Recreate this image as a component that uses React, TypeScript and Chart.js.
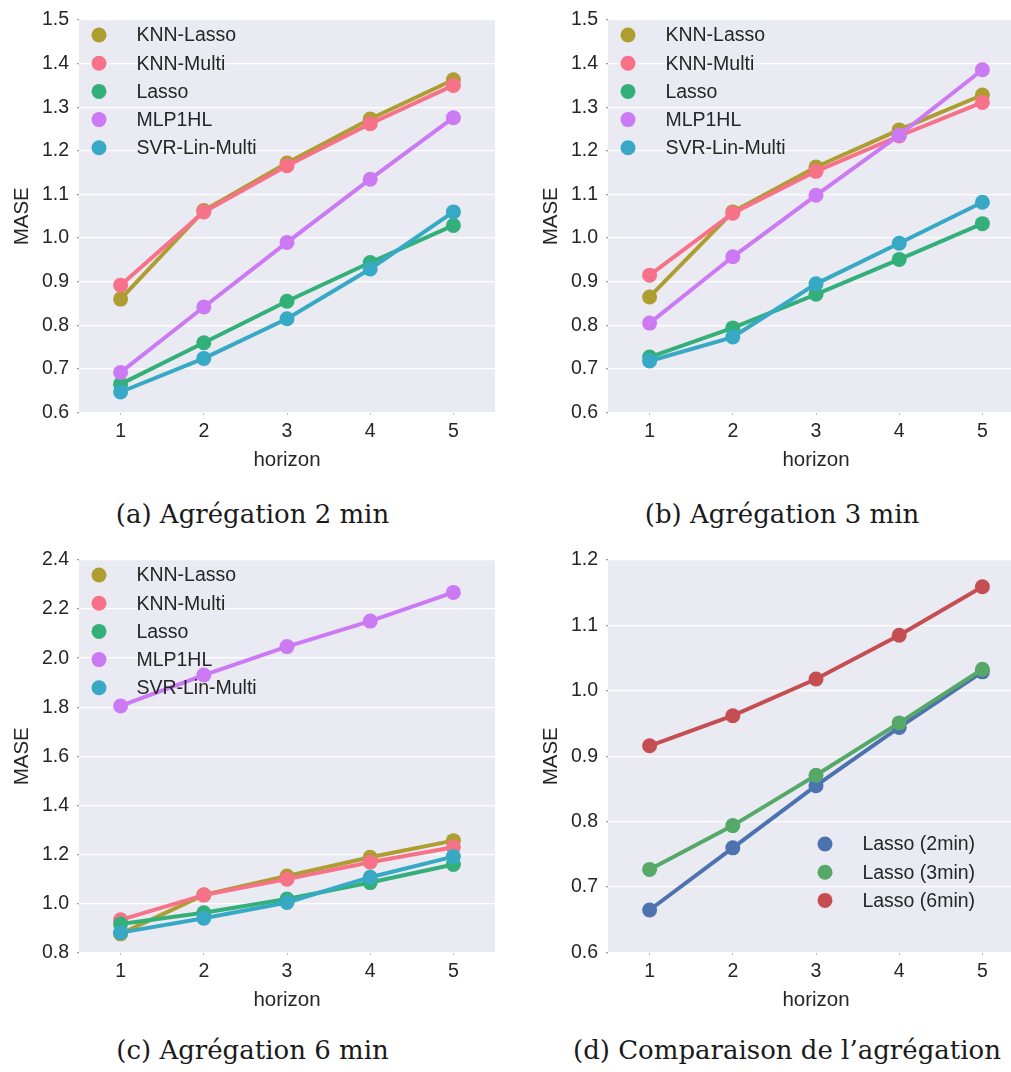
import React, { useEffect, useRef } from "react";
import { Chart, registerables } from "chart.js";

Chart.register(...registerables);

// ---------- data ----------
const horizons = ["1", "2", "3", "4", "5"];
const methodNames = ["KNN-Lasso", "KNN-Multi", "Lasso", "MLP1HL", "SVR-Lin-Multi"];

// (a) 2 min aggregation
const knnLasso2 = [0.86, 1.063, 1.172, 1.273, 1.363];
const knnMulti2 = [0.892, 1.06, 1.166, 1.262, 1.35];
const lasso2 = [0.665, 0.76, 0.855, 0.944, 1.029];
const mlp2 = [0.692, 0.842, 0.99, 1.135, 1.276];
const svr2 = [0.647, 0.724, 0.815, 0.929, 1.06];

// (b) 3 min aggregation
const knnLasso3 = [0.865, 1.06, 1.163, 1.248, 1.328];
const knnMulti3 = [0.915, 1.057, 1.153, 1.234, 1.311];
const lasso3 = [0.727, 0.794, 0.871, 0.951, 1.033];
const mlp3 = [0.805, 0.957, 1.098, 1.236, 1.386];
const svr3 = [0.718, 0.773, 0.895, 0.988, 1.082];

// (c) 6 min aggregation
const knnLasso6 = [0.876, 1.035, 1.112, 1.188, 1.256];
const knnMulti6 = [0.933, 1.034, 1.099, 1.168, 1.229];
const lasso6 = [0.916, 0.962, 1.018, 1.085, 1.159];
const mlp6 = [1.805, 1.931, 2.047, 2.151, 2.268];
const svr6 = [0.881, 0.94, 1.004, 1.107, 1.191];

// (d) comparison
const comparisonNames = ["Lasso (2min)", "Lasso (3min)", "Lasso (6min)"];

const methodColors = ["#ae9d31", "#f77189", "#33b07a", "#cc7af4", "#38a9c5"];
const comparisonColors = ["#4c72b0", "#55a868", "#c44e52"];

const captions = [
  "(a) Agrégation 2 min",
  "(b) Agrégation 3 min",
  "(c) Agrégation 6 min",
  "(d) Comparaison de l\u2019agrégation",
];

// ---------- styling ----------
const SANS = "'Liberation Sans', Arial, sans-serif";
const TEXT = "#262626";
const PANEL_W = 505;
const PANEL_H = 480;

const bgPlugin = {
  id: "plotBg",
  beforeDraw(chart: any) {
    const { ctx, chartArea } = chart;
    ctx.save();
    ctx.fillStyle = "#eaeaf2";
    ctx.fillRect(chartArea.left, chartArea.top, chartArea.right - chartArea.left, chartArea.bottom - chartArea.top);
    ctx.restore();
  },
};

const insideLegend = {
  id: "insideLegend",
  afterDraw(chart: any, _args: any, opts: any) {
    const { ctx, chartArea } = chart;
    const ds = chart.data.datasets;
    ctx.save();
    ctx.font = `${opts.fontSize}px ${SANS}`;
    ctx.textBaseline = "middle";
    ctx.textAlign = "left";
    ds.forEach((d: any, i: number) => {
      const cx = chartArea.left + opts.x;
      const cy = chartArea.top + opts.y + i * opts.spacing;
      ctx.beginPath();
      ctx.fillStyle = d.backgroundColor;
      ctx.arc(cx, cy, opts.radius, 0, Math.PI * 2);
      ctx.fill();
      ctx.fillStyle = TEXT;
      ctx.fillText(d.label, cx + opts.textOffset, cy + 1);
    });
    ctx.restore();
  },
};

function makeDatasets(names: string[], series: number[][], colors: string[]) {
  return series.map((data, i) => ({
    label: names[i],
    data,
    borderColor: colors[i],
    backgroundColor: colors[i],
    pointBackgroundColor: colors[i],
    pointBorderColor: colors[i],
    pointBorderWidth: 0,
    pointRadius: 7.5,
    borderWidth: 4,
    tension: 0,
    order: series.length - i,
  }));
}

type PanelProps = {
  left: number;
  top: number;
  names: string[];
  series: number[][];
  colors: string[];
  yMin: number;
  yMax: number;
  yStep: number;
  legendX: number;
  legendY: number;
};

function Panel(p: PanelProps) {
  const ref = useRef<HTMLCanvasElement | null>(null);
  useEffect(() => {
    if (!ref.current) return;
    const chart = new Chart(ref.current, {
      type: "line",
      data: { labels: horizons, datasets: makeDatasets(p.names, p.series, p.colors) as any },
      plugins: [bgPlugin, insideLegend],
      options: {
        responsive: false,
        animation: false,
        devicePixelRatio: 1,
        layout: { padding: { top: 20, right: 10, left: 0, bottom: 0 } },
        plugins: {
          legend: { display: false },
          tooltip: { enabled: false },
          insideLegend: {
            x: p.legendX,
            y: p.legendY,
            spacing: 28.2,
            radius: 7.5,
            textOffset: 37.4,
            fontSize: 19.5,
          },
        } as any,
        scales: {
          x: {
            type: "category",
            offset: true,
            afterFit: (s: any) => {
              s.height = 67.5;
            },
            grid: {
              display: true,
              drawOnChartArea: false,
              drawTicks: true,
              tickLength: 2,
              tickColor: "#999999",
              offset: false,
            },
            border: { display: false },
            ticks: {
              color: TEXT,
              font: { size: 19.5, family: SANS },
              padding: 5,
              maxRotation: 0,
            },
            title: {
              display: true,
              text: "horizon",
              color: TEXT,
              font: { size: 20.5, family: SANS },
              padding: { top: 0, bottom: 7 },
            },
          },
          y: {
            type: "linear",
            min: p.yMin,
            max: p.yMax,
            afterFit: (s: any) => {
              s.width = 79;
            },
            grid: {
              color: "#ffffff",
              lineWidth: 1.3,
              drawTicks: true,
              tickLength: 2,
              tickColor: "#999999",
            },
            border: { display: false },
            ticks: {
              stepSize: p.yStep,
              color: TEXT,
              font: { size: 19.5, family: SANS },
              padding: 8,
              callback: (v: any) => Number(v).toFixed(1),
            },
            title: {
              display: true,
              text: "MASE",
              color: TEXT,
              font: { size: 20.5, family: SANS },
              padding: { top: 10, bottom: 0 },
            },
          },
        },
      },
    });
    return () => chart.destroy();
  }, []);
  return (
    <div style={{ position: "absolute", left: p.left, top: p.top, width: PANEL_W, height: PANEL_H }}>
      <canvas ref={ref} width={PANEL_W} height={PANEL_H} style={{ display: "block" }} />
    </div>
  );
}

function Caption({ text, cx, cy }: { text: string; cx: number; cy: number }) {
  return (
    <div
      style={{
        position: "absolute",
        left: cx - 300,
        top: cy - 20,
        width: 600,
        height: 40,
        lineHeight: "40px",
        textAlign: "center",
        fontFamily: "'DejaVu Serif', serif",
        fontSize: 26,
        color: "#1a1a1a",
        whiteSpace: "nowrap",
      }}
    >
      {text}
    </div>
  );
}

export default function App() {
  return (
    <div
      style={{
        position: "absolute",
        left: 0,
        top: 0,
        width: 1011,
        height: 1072,
        overflow: "hidden",
        background: "#ffffff",
      }}
    >
      <Panel
        left={0}
        top={0}
        names={methodNames}
        series={[knnLasso2, knnMulti2, lasso2, mlp2, svr2]}
        colors={methodColors}
        yMin={0.6}
        yMax={1.5}
        yStep={0.1}
        legendX={20}
        legendY={15}
      />
      <Panel
        left={529}
        top={0}
        names={methodNames}
        series={[knnLasso3, knnMulti3, lasso3, mlp3, svr3]}
        colors={methodColors}
        yMin={0.6}
        yMax={1.5}
        yStep={0.1}
        legendX={20}
        legendY={15}
      />
      <Panel
        left={0}
        top={540}
        names={methodNames}
        series={[knnLasso6, knnMulti6, lasso6, mlp6, svr6]}
        colors={methodColors}
        yMin={0.8}
        yMax={2.4}
        yStep={0.2}
        legendX={20}
        legendY={15}
      />
      <Panel
        left={529}
        top={540}
        names={comparisonNames}
        series={[lasso2, lasso3, lasso6]}
        colors={comparisonColors}
        yMin={0.6}
        yMax={1.2}
        yStep={0.1}
        legendX={217}
        legendY={284}
      />
      <Caption text={captions[0]} cx={252.5} cy={514} />
      <Caption text={captions[1]} cx={782} cy={514} />
      <Caption text={captions[2]} cx={252.5} cy={1050} />
      <Caption text={captions[3]} cx={787} cy={1050} />
    </div>
  );
}
